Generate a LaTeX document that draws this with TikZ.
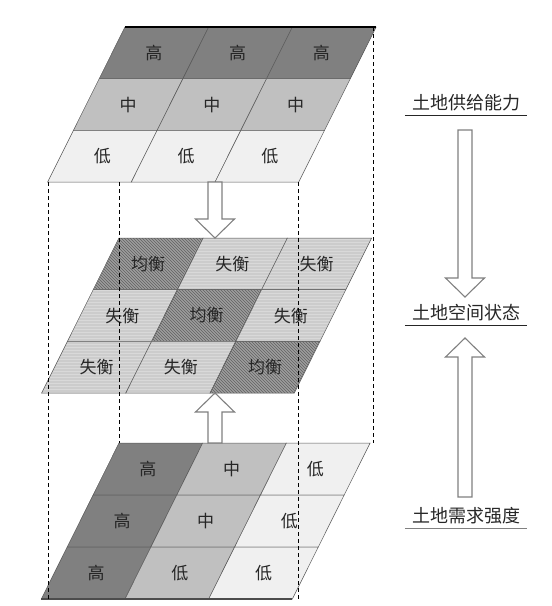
\documentclass[tikz,border=0pt]{standalone}
\usepackage{fontspec}
\newfontfamily\cjk{Noto Sans CJK SC}
\usepackage{tikz}
\usetikzlibrary{patterns}

\definecolor{cellhigh}{RGB}{128,128,128}
\definecolor{cellmid}{RGB}{192,192,192}
\definecolor{celllow}{RGB}{240,240,240}

% block arrows: x, top y, bottom y (y runs downwards)
\newcommand{\dnblock}[3]{%
  \draw[blockarrow] (#1-7,#2) -- (#1+7,#2) -- (#1+7,#3-19) -- (#1+19.5,#3-19)
    -- (#1,#3) -- (#1-19.5,#3-19) -- (#1-7,#3-19) -- cycle;}
\newcommand{\upblock}[3]{%
  \draw[blockarrow] (#1-7,#3) -- (#1+7,#3) -- (#1+7,#2+19) -- (#1+19.5,#2+19)
    -- (#1,#2) -- (#1-19.5,#2+19) -- (#1-7,#2+19) -- cycle;}

\begin{document}
\begin{tikzpicture}[
  x=1pt, y=-1pt,
  font=\cjk\fontsize{17}{19}\selectfont,
  cellbox/.style={draw=black!65, line width=0.5pt},
  high/.style={cellbox, fill=cellhigh},
  mid/.style={cellbox, fill=cellmid},
  low/.style={cellbox, fill=celllow},
  bal/.style={cellbox, preaction={fill=black!38}, pattern=north west lines,
              pattern color=black!62},
  imbal/.style={cellbox, preaction={fill=black!20}, pattern=horizontal lines,
                pattern color=white!85!black},
  celltext/.style={text=black!85, inner sep=0pt},
  sidelabel/.style={minimum width=122pt, minimum height=24pt, inner sep=0pt,
                    font=\cjk\fontsize{18}{20}\selectfont, text=black!85},
  guide/.style={draw=black, line width=0.6pt, dash pattern=on 4pt off 3pt},
  blockarrow/.style={draw=black!50, line width=1.1pt, fill=white},
]
\useasboundingbox (0,0) rectangle (552,606);

% top plate: supply
\begin{scope}[shift={(125,27)}]
  \foreach \r/\c/\kind/\txt in {0/0/high/高, 0/1/high/高, 0/2/high/高,
      1/0/mid/中, 1/1/mid/中, 1/2/mid/中, 2/0/low/低, 2/1/low/低, 2/2/low/低} {
    \path[\kind] (\c*83.7-\r*25.8, \r*51.7) -- ++(83.7,0) -- ++(-25.8,51.7)
      -- ++(-83.7,0) -- cycle;
    \node[celltext] (top-\r\c) at ({(\c+0.5)*83.7-(\r+0.5)*25.8}, {(\r+0.5)*51.7}) {\txt};
  }
  \draw[line width=1.6pt] (0,0) -- (251.1,0);
\end{scope}

% middle plate: state
\begin{scope}[shift={(119,238)}]
  \foreach \r/\c/\kind/\txt in {0/0/bal/均衡, 0/1/imbal/失衡, 0/2/imbal/失衡,
      1/0/imbal/失衡, 1/1/bal/均衡, 1/2/imbal/失衡,
      2/0/imbal/失衡, 2/1/imbal/失衡, 2/2/bal/均衡} {
    \path[\kind] (\c*84.2-\r*25.8, \r*51.7) -- ++(84.2,0) -- ++(-25.8,51.7)
      -- ++(-84.2,0) -- cycle;
    \node[celltext] (mid-\r\c) at ({(\c+0.5)*84.2-(\r+0.5)*25.8}, {(\r+0.5)*51.7}) {\txt};
  }
\end{scope}

% bottom plate: demand
\begin{scope}[shift={(119,443)}]
  \foreach \r/\c/\kind/\txt in {0/0/high/高, 0/1/mid/中, 0/2/low/低,
      1/0/high/高, 1/1/mid/中, 1/2/low/低, 2/0/high/高, 2/1/mid/低, 2/2/low/低} {
    \path[\kind] (\c*83.7-\r*25.9, \r*52) -- ++(83.7,0) -- ++(-25.9,52)
      -- ++(-83.7,0) -- cycle;
    \node[celltext] (bot-\r\c) at ({(\c+0.5)*83.7-(\r+0.5)*25.9}, {(\r+0.5)*52}) {\txt};
  }
  \draw[line width=1.2pt, black!70] (-77.7,156) -- (173.4,156);
\end{scope}

% guides
\draw[guide] (48,182) -- (48,600);
\draw[guide] (119,182) -- (119,443);
\draw[guide] (298,182) -- (298,600);
\draw[guide] (373,27) -- (373,443);

% arrows between plates
\dnblock{215}{182}{238}
\upblock{215}{393}{443}

% right column
\node[sidelabel] (supply) at (466,103) {土地供给能力};
\node[sidelabel] (state)  at (466,313) {土地空间状态};
\node[sidelabel] (demand) at (466,516) {土地需求强度};
\draw[black!85, line width=0.8pt] (supply.south west) -- (supply.south east);
\draw[black!85, line width=0.8pt] (state.south west) -- (state.south east);
\draw[black!50, line width=1.4pt] (demand.south west) -- (demand.south east);
\dnblock{465}{130}{297}
\upblock{465}{338}{497}
\end{tikzpicture}
\end{document}
